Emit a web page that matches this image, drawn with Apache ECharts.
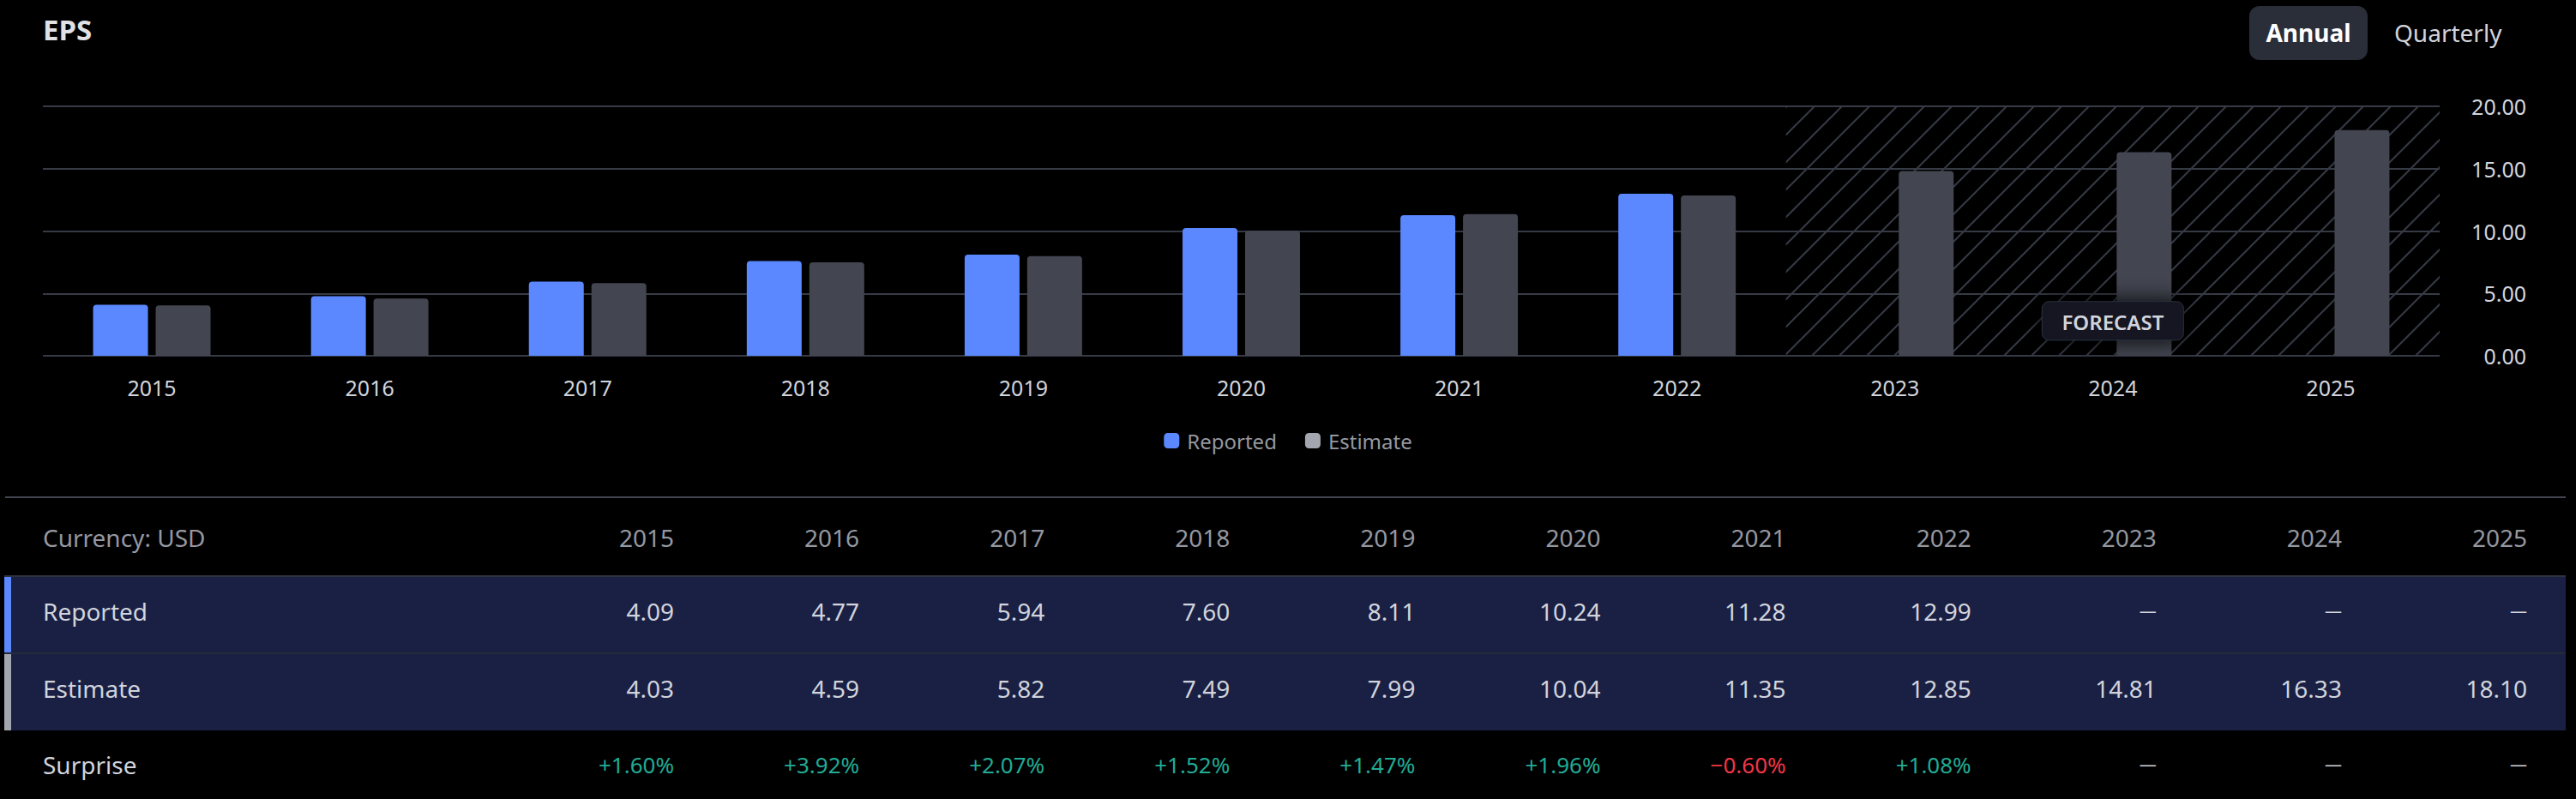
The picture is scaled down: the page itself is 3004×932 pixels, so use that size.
<!DOCTYPE html>
<html>
<head>
<meta charset="utf-8">
<script src="https://cdn.jsdelivr.net/npm/echarts@6/dist/echarts.min.js"></script>
<style>
html,body{margin:0;padding:0;background:#000;width:3004px;height:932px;overflow:hidden;font-family:'Noto Sans',sans-serif;}
#chart{position:absolute;left:0;top:0;width:3004px;height:560px;}
.t{position:absolute;white-space:nowrap;}
.box{position:absolute;}
</style>
</head>
<body>
<div id="chart"></div>
<div id="overlay"></div>
<script>
// ---- data ----
const categories = ['2015','2016','2017','2018','2019','2020','2021','2022','2023','2024','2025'];
const reported = [4.09, 4.77, 5.94, 7.60, 8.11, 10.24, 11.28, 12.99, null, null, null];
const estimate = [4.03, 4.59, 5.82, 7.49, 7.99, 10.04, 11.35, 12.85, 14.81, 16.33, 18.10];
const surprise = [1.60, 3.92, 2.07, 1.52, 1.47, 1.96, -0.60, 1.08, null, null, null];
const yMin = 0, yMax = 20, yInterval = 5;
const currencyLabel = 'Currency: USD';

// ---- styles ----
const FONT = "'Noto Sans', sans-serif";
const C_BLUE = '#5b87ff', C_GRAY_BAR = '#434651', C_GRAY_LEG = '#a3a6af';
const C_GRID = '#363a45', C_TEXT = '#d1d4dc', C_MUTED = '#9598a1';

// forecast = categories without reported values
const forecastIdx = categories.map((c, i) => i).filter(i => reported[i] == null);
const fFirst = forecastIdx[0], fLast = forecastIdx[forecastIdx.length - 1];
const fMid = forecastIdx[Math.floor(forecastIdx.length / 2)];

// hatch pattern tile
const T = 32;
const cv = document.createElement('canvas');
cv.width = T; cv.height = T;
const g = cv.getContext('2d');
g.strokeStyle = C_GRID; g.lineWidth = 2;
[0, T, 2 * T].forEach(k => { g.beginPath(); g.moveTo(k + 4, -4); g.lineTo(-4, k + 4); g.stroke(); });
const hatchPattern = { image: cv.toDataURL(), repeat: 'repeat', imageWidth: T, imageHeight: T };

const chart = echarts.init(document.getElementById('chart'), null, { renderer: 'svg' });
chart.setOption({
  animation: false,
  backgroundColor: 'transparent',
  grid: { left: 50, right: 159, top: 124, height: 291, containLabel: false },
  legend: {
    top: 497, left: 'center', itemWidth: 18, itemHeight: 18, itemGap: 33, icon: 'roundRect',
    textStyle: { color: C_MUTED, fontSize: 24, fontFamily: FONT, padding: [0, 0, 0, 4] },
    data: [{ name: 'Reported', itemStyle: { color: C_BLUE } }, { name: 'Estimate', itemStyle: { color: C_GRAY_LEG } }]
  },
  xAxis: {
    type: 'category', data: categories, boundaryGap: true,
    axisLine: { show: false }, axisTick: { show: false },
    axisLabel: { color: C_TEXT, fontSize: 25, fontFamily: FONT, margin: 24 }
  },
  yAxis: {
    type: 'value', position: 'right', min: yMin, max: yMax, interval: yInterval,
    axisLine: { show: false }, axisTick: { show: false },
    splitLine: { lineStyle: { color: C_GRID, width: 2 } },
    axisLabel: { color: C_TEXT, fontSize: 25, fontFamily: FONT, align: 'right', margin: 101,
      formatter: v => v.toFixed(2) }
  },
  series: [
    {
      type: 'custom', z: 1, silent: true,
      data: [[fFirst, fLast]],
      encode: { x: 0 },
      renderItem: (params, api) => {
        const bw = api.size([1, 0])[0];
        const pTop = api.coord([api.value(0), yMax]);
        const pBot = api.coord([api.value(1), yMin]);
        return { type: 'rect', shape: { x: pTop[0] - bw / 2, y: pTop[1], width: pBot[0] - pTop[0] + bw, height: pBot[1] - pTop[1] },
          style: { fill: hatchPattern } };
      }
    },
    { name: 'Reported', type: 'bar', z: 2, data: reported, barWidth: 64, barGap: '14%',
      itemStyle: { color: C_BLUE, borderRadius: [4, 4, 0, 0] } },
    { name: 'Estimate', type: 'bar', z: 2, data: estimate, barWidth: 64, barGap: '14%',
      itemStyle: { color: C_GRAY_BAR, borderRadius: [4, 4, 0, 0] } },
    {
      type: 'custom', z: 10, silent: true,
      data: [[fMid]],
      encode: { x: 0 },
      renderItem: (params, api) => {
        const c = api.coord([api.value(0), 2.8]);
        const w = 165, h = 45;
        return { type: 'group', children: [
          { type: 'rect', shape: { x: c[0] - w / 2, y: c[1] - h / 2, width: w, height: h, r: 8 },
            style: { fill: '#131722', stroke: '#2a2e39', lineWidth: 1, shadowBlur: 26, shadowColor: 'rgba(0,0,0,0.95)' } },
          { type: 'text', x: c[0], y: c[1] + 1,
            style: { text: 'FORECAST', fill: C_TEXT, font: "600 24px 'Noto Sans'", align: 'center', verticalAlign: 'middle' } }
        ] };
      }
    }
  ]
});

// ---- HTML parts: header & table ----
const ov = document.getElementById('overlay');
function box(x, y, w, h, bg, extra) {
  const d = document.createElement('div'); d.className = 'box';
  Object.assign(d.style, { left: x + 'px', top: y + 'px', width: w + 'px', height: h + 'px', background: bg }, extra || {});
  ov.appendChild(d); return d;
}
function txt(text, x, cy, size, color, opts) {
  opts = opts || {};
  const d = document.createElement('div'); d.className = 't';
  d.textContent = text;
  const h = size * 2;
  d.style.top = (cy - h / 2) + 'px';
  d.style.height = h + 'px'; d.style.lineHeight = h + 'px';
  d.style.fontSize = size + 'px'; d.style.color = color;
  d.style.fontWeight = opts.weight || 'normal';
  if (opts.align === 'right') { d.style.right = (3004 - x) + 'px'; d.style.textAlign = 'right'; }
  else d.style.left = x + 'px';
  ov.appendChild(d); return d;
}

txt('EPS', 50, 35, 33, '#dfe1e6', { weight: 'bold' });
const btn = box(2623, 7, 138, 63, '#2a2e39', { borderRadius: '12px' });
btn.style.color = '#ffffff'; btn.style.fontWeight = 'bold'; btn.style.fontSize = '28px';
btn.style.lineHeight = '63px'; btn.style.textAlign = 'center'; btn.textContent = 'Annual';
txt('Quarterly', 2792, 38, 28, C_TEXT);

// table
box(6, 579, 2986, 2, '#434651');
box(5, 671, 2987, 2, '#2e3240');
box(5, 673, 2987, 88, '#1a2044');
box(5, 761, 2987, 2, '#252a38');
box(5, 763, 2987, 89, '#1a2044');
box(5, 673, 8, 88, C_BLUE);
box(5, 763, 8, 89, C_GRAY_LEG);

const colX = i => 786 + i * 216.1;
const DASH = '\u2014';
const fmt = v => v == null ? DASH : v.toFixed(2);
const fmtPct = v => v == null ? DASH : (v >= 0 ? '+' + v.toFixed(2) : '\u2212' + Math.abs(v).toFixed(2)) + '%';

txt(currencyLabel, 50, 627, 28, C_MUTED);
txt('Reported', 50, 713, 28, C_TEXT);
txt('Estimate', 50, 803, 28, C_TEXT);
txt('Surprise', 50, 892, 28, C_TEXT);
categories.forEach((c, i) => {
  txt(c, colX(i), 627, 28, C_MUTED, { align: 'right' });
  const r = fmt(reported[i]);
  txt(r, colX(i), 713, r === DASH ? 20 : 28, C_TEXT, { align: 'right' });
  txt(fmt(estimate[i]), colX(i), 803, 28, C_TEXT, { align: 'right' });
  const s = surprise[i];
  const st = fmtPct(s);
  txt(st, colX(i), 892, st === DASH ? 20 : 26, s == null ? C_TEXT : (s >= 0 ? '#22ab94' : '#f23645'), { align: 'right' });
});
</script>
</body>
</html>
